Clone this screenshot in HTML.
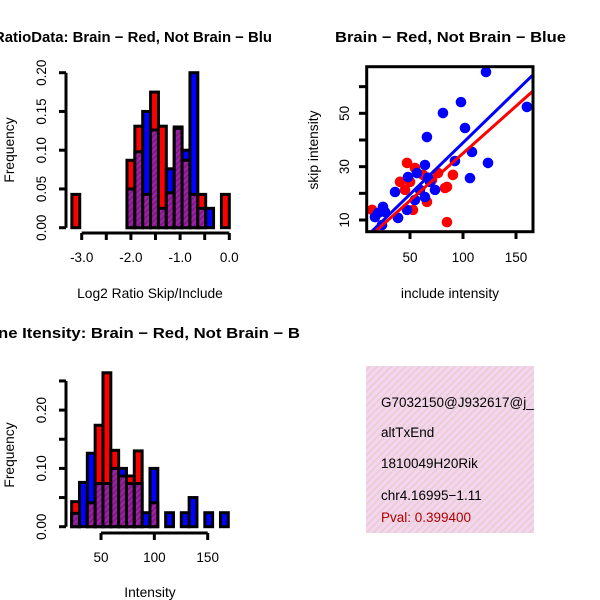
<!DOCTYPE html>
<html><head><meta charset="utf-8"><style>
body{margin:0;background:#fff}
svg{display:block;font-family:"Liberation Sans",sans-serif}
</style></head><body>
<svg id="c" width="600" height="600" viewBox="0 0 600 600" xmlns="http://www.w3.org/2000/svg">
<defs>
<pattern id="hatch" width="4" height="4" patternUnits="userSpaceOnUse" patternTransform="rotate(45)">
<rect width="4" height="4" fill="#a020a8"/><rect width="1.6" height="4" fill="#7a1a80"/>
</pattern>
<pattern id="pinkhatch" width="5" height="5" patternUnits="userSpaceOnUse" patternTransform="rotate(45)">
<rect width="5" height="5" fill="#f6d4f0"/><rect width="1.5" height="5" fill="#e2d0cc"/>
</pattern>
</defs>
<text x="-6" y="42" font-size="14.5" font-weight="bold" textLength="278" lengthAdjust="spacingAndGlyphs">RatioData: Brain − Red, Not Brain − Blu</text>
<text x="335" y="42" font-size="14.5" font-weight="bold" textLength="231" lengthAdjust="spacingAndGlyphs">Brain − Red, Not Brain − Blue</text>
<text x="-2" y="338" font-size="14.5" font-weight="bold" textLength="302" lengthAdjust="spacingAndGlyphs">ne Itensity: Brain − Red, Not Brain − B</text>
<text x="150" y="298" font-size="13.8" text-anchor="middle">Log2 Ratio Skip/Include</text>
<text transform="translate(14,150) rotate(-90)" font-size="13.8" text-anchor="middle">Frequency</text>
<text x="450" y="298" font-size="13.8" text-anchor="middle">include intensity</text>
<text transform="translate(318,150) rotate(-90)" font-size="13.8" text-anchor="middle">skip intensity</text>
<text x="150" y="597" font-size="13.8" text-anchor="middle">Intensity</text>
<text transform="translate(14,455) rotate(-90)" font-size="13.8" text-anchor="middle">Frequency</text>
<g>
<rect x="366" y="366" width="168" height="167" fill="url(#pinkhatch)"/>
<svg x="366" y="366" width="168" height="167" overflow="hidden">
<text x="15" y="41" font-size="13.5">G7032150@J932617@j_</text>
</svg>
<text x="381" y="437" font-size="13.5">altTxEnd</text>
<text x="381" y="468" font-size="13.5">1810049H20Rik</text>
<text x="381" y="500" font-size="13.5">chr4.16995−1.11</text>
<text x="381" y="522" font-size="13.5" fill="#b00000">Pval: 0.399400</text>
</g>
<g id="g1"></g><g id="g2"></g><g id="g3"></g>
</svg>
<script>
// Ratio histogram
const ratioBreakStart = -3.2;
const ratioBinWidth = 0.16;
const ratioRed  = [0.043,0,0,0,0,0,0,0.087,0.131,0.043,0.175,0.131,0.045,0.130,0.087,0.043,0.043,0,0,0.043];
const ratioBlue = [0,0,0,0,0,0,0,0.050,0.098,0.150,0.126,0.025,0.076,0.128,0.100,0.200,0.025,0.025,0,0];
const ratioYTicks = [0,0.05,0.10,0.15,0.20];
const ratioYLabels = ["0.00","0.05","0.10","0.15","0.20"];
const ratioXTicks = [-3.0,-2.5,-2.0,-1.5,-1.0,-0.5,0.0];
const ratioXLabels = ["-3.0","","-2.0","","-1.0","","0.0"];
// Intensity histogram
const intBreakStart = 22.5;
const intBinWidth = 7.34;
const intRed  = [0.043,0,0.041,0.174,0.264,0.131,0.087,0.087,0.130,0,0.041,0,0,0,0,0,0,0,0,0];
const intBlue = [0.023,0.076,0.126,0.074,0.074,0.100,0.100,0.074,0.074,0.024,0.100,0,0.024,0,0.024,0.050,0,0.024,0,0.024];
const intYTicks = [0,0.05,0.10,0.15,0.20,0.25];
const intYLabels = ["0.00","","0.10","","0.20",""];
const intXTicks = [50,100,150];
const intXLabels = ["50","100","150"];
// Scatter
const blueX = [121.7,160.3,98.1,81.1,101.9,66,108.5,123.6,106.6,92.4,64.1,56.6,48.1,67,35.9,64.1,54.7,47.2,38.7,24.5,19.8,17,23.6,26.4,73.6,68.9,59.4];
const blueY = [65.5,52.4,54.2,50.1,44.5,41.1,35.5,31.4,25.7,32.1,30.6,27.6,26.1,25.8,20.5,18.6,17.5,13.8,10.8,14.9,12.6,11.1,8.1,13,21.3,24.3,21.3];
const redX = [47.2,54.7,62.3,40.6,50,90.5,83,84.9,45.3,66,52.8,14.2,84.9,70.7,38.7,76.4];
const redY = [31.4,29.5,26.9,24.3,24.3,26.9,22,22.4,21.3,16.8,13.8,13.8,9.2,25,10.8,27.6];
const blueFit = [0.35,0.386];
const redFit = [-0.4,0.354];
const scXTicks = [50,100,150];
const scYTicks = [10,20,30,40,50,60];
const scYLabels = ["10","","30","","50",""];

const NS="http://www.w3.org/2000/svg";
function mk(parent,tag,attrs){const e=document.createElementNS(NS,tag);for(const k in attrs)e.setAttribute(k,attrs[k]);parent.appendChild(e);return e;}

function hist(g,name,start,bw,red,blue,xs,ys,yTicks,yLabels,xTicks,xLabels,axisY,xAxisY){
  red.forEach((r,i)=>{
    const b=blue[i];const x0=xs(start+i*bw),x1=xs(start+(i+1)*bw);
    const hi=Math.max(r,b),lo=Math.min(r,b);
    if(hi<=0)return;
    const big=mk(g,'rect',{x:x0,y:ys(hi),width:x1-x0,height:ys(0)-ys(hi),fill:r>=b?'#ff0000':'#0000ff',stroke:'#000','stroke-width':3});
    
    
    if(lo>0){
      const p=mk(g,'rect',{x:x0,y:ys(lo),width:x1-x0,height:ys(0)-ys(lo),fill:'url(#hatch)',stroke:'#000','stroke-width':3});
      
      
    }
  });
  const ya=mk(g,'line',{x1:axisY,x2:axisY,y1:ys(yTicks[yTicks.length-1]),y2:ys(0),stroke:'#000','stroke-width':3});
  
  
  yTicks.forEach((t,i)=>{
    mk(g,'line',{x1:axisY-7,x2:axisY,y1:ys(t),y2:ys(t),stroke:'#000','stroke-width':3});
    if(yLabels[i]){const tx=mk(g,'text',{transform:`translate(46,${ys(t)}) rotate(-90)`,'font-size':13.5,'text-anchor':'middle'});tx.textContent=yLabels[i];
      
      }
  });
  const xa=mk(g,'line',{x1:xs(xTicks[0]),x2:xs(xTicks[xTicks.length-1]),y1:xAxisY,y2:xAxisY,stroke:'#000','stroke-width':3});
  
  
  xTicks.forEach((t,i)=>{
    mk(g,'line',{x1:xs(t),x2:xs(t),y1:xAxisY,y2:xAxisY+7,stroke:'#000','stroke-width':3});
    if(xLabels[i]){const tx=mk(g,'text',{x:xs(t),y:xAxisY+29,'font-size':13.5,'text-anchor':'middle'});tx.textContent=xLabels[i];
      
      }
  });
}
const g1=document.getElementById('g1');


hist(g1,'ratio',ratioBreakStart,ratioBinWidth,ratioRed,ratioBlue,
  v=>81.7+(v+3)*49.2, v=>227.7-v*775, ratioYTicks,ratioYLabels,ratioXTicks,ratioXLabels,66,233);
const g2=document.getElementById('g2');


hist(g2,'intensity',intBreakStart,intBinWidth,intRed,intBlue,
  v=>101+(v-50)*1.067, v=>526.7-v*583, intYTicks,intYLabels,intXTicks,intXLabels,66,533);

// scatter
const g3=document.getElementById('g3');


const sx=v=>410+(v-50)*1.06, sy=v=>220-(v-10)*2.667;
mk(g3,'clipPath',{id:'scClip'}).appendChild(document.createElementNS(NS,'rect'));
const cr=g3.querySelector('#scClip rect');cr.setAttribute('x',366.7);cr.setAttribute('y',66.7);cr.setAttribute('width',166.3);cr.setAttribute('height',165);
const pts=mk(g3,'g',{'clip-path':'url(#scClip)'});
redX.forEach((x,i)=>{const c=mk(pts,'circle',{cx:sx(x),cy:sy(redY[i]),r:5.3,fill:'#ff0000'});
  
  });
blueX.forEach((x,i)=>{const c=mk(pts,'circle',{cx:sx(x),cy:sy(blueY[i]),r:5.3,fill:'#0000ff'});
  
  });
[[blueFit,'#0000ff','blue-fit-line'],[redFit,'#ff0000','red-fit-line']].forEach(([f,col,nm])=>{
  const l=mk(pts,'line',{x1:sx(0),y1:sy(f[0]),x2:sx(200),y2:sy(f[0]+f[1]*200),stroke:col,'stroke-width':3});
  
  
});
const box=mk(g3,'rect',{x:366.7,y:66.7,width:166.3,height:165,fill:'none',stroke:'#000','stroke-width':3});


scXTicks.forEach(t=>{
  mk(g3,'line',{x1:sx(t),x2:sx(t),y1:231.7,y2:239,stroke:'#000','stroke-width':3});
  const tx=mk(g3,'text',{x:sx(t),y:262,'font-size':13.5,'text-anchor':'middle'});tx.textContent=t;
  
  
});
scYTicks.forEach((t,i)=>{
  mk(g3,'line',{x1:359,x2:366.7,y1:sy(t),y2:sy(t),stroke:'#000','stroke-width':3});
  if(scYLabels[i]){const tx=mk(g3,'text',{transform:`translate(349,${sy(t)}) rotate(-90)`,'font-size':13.5,'text-anchor':'middle'});tx.textContent=scYLabels[i];
    
    }
});
</script>
</body></html>
